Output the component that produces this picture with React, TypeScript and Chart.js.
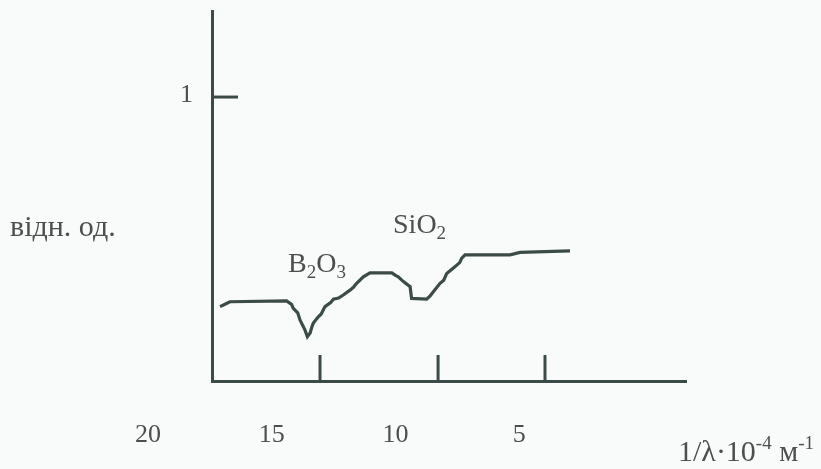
import React, { useEffect, useRef } from 'react';
import { Chart, registerables } from 'chart.js';
Chart.register(...registerables);

// wavenumber 1/λ·10^-4 m^-1 and relative reflectance
const wavenumber = [17.09, 16.85, 16.69, 14.40, 14.20, 14.13, 13.95, 13.86, 13.66, 13.56, 13.45, 13.38, 13.32, 13.12, 13.0, 12.85, 12.62, 12.51, 12.30, 12.11, 11.84, 11.70, 11.57, 11.30, 11.03, 10.15, 10.0, 9.89, 9.68, 9.41, 9.35, 8.74, 8.60, 8.47, 8.20, 8.05, 7.93, 7.60, 7.40, 7.33, 7.19, 5.37, 4.97, 2.95];
const reflectance = [0.262, 0.272, 0.279, 0.282, 0.270, 0.256, 0.240, 0.215, 0.180, 0.156, 0.169, 0.190, 0.204, 0.226, 0.236, 0.262, 0.276, 0.288, 0.292, 0.303, 0.320, 0.330, 0.344, 0.367, 0.381, 0.381, 0.372, 0.367, 0.350, 0.332, 0.291, 0.288, 0.300, 0.314, 0.344, 0.355, 0.379, 0.402, 0.418, 0.432, 0.444, 0.444, 0.453, 0.458];

const xTickLabels = ['20', '15', '10', '5'];
const xTickLabelValues = [20, 15, 10, 5];
const xTickMarks = [13.05, 8.28, 3.96];
const yTickValues = [1];
const yTickLabels = ['1'];

const compoundLabels = ['B2O3', 'SiO2'];
const compoundX = [14.34, 10.1];
const compoundY = [0.384, 0.521];

const yAxisTitle = 'відн. од.';

const INK = '#3b4b47';
const TEXT = '#4b4f50';
const SERIF = '"Liberation Serif", "DejaVu Serif", serif';

function drawChem(ctx: CanvasRenderingContext2D, text: string, x: number, y: number) {
  let cx = x;
  for (const ch of text) {
    if (/[0-9]/.test(ch)) {
      ctx.font = `19px ${SERIF}`;
      ctx.fillText(ch, cx, y + 6);
      cx += ctx.measureText(ch).width;
    } else {
      ctx.font = `28px ${SERIF}`;
      ctx.fillText(ch, cx, y);
      cx += ctx.measureText(ch).width;
    }
  }
}

const decorPlugin = {
  id: 'decor',
  afterDatasetsDraw(chart: any) {
    const { ctx, chartArea, scales } = chart;
    const xs = scales.x;
    const ys = scales.y;
    ctx.save();
    // tick marks
    ctx.strokeStyle = INK;
    ctx.lineWidth = 3;
    ctx.lineCap = 'butt';
    for (const v of xTickMarks) {
      const px = xs.getPixelForValue(v);
      ctx.beginPath();
      ctx.moveTo(px, chartArea.bottom);
      ctx.lineTo(px, chartArea.bottom - 26);
      ctx.stroke();
    }
    for (const v of yTickValues) {
      const py = ys.getPixelForValue(v);
      ctx.beginPath();
      ctx.moveTo(chartArea.left, py);
      ctx.lineTo(chartArea.left + 26, py);
      ctx.stroke();
    }
    // tick labels
    ctx.fillStyle = TEXT;
    ctx.font = `26px ${SERIF}`;
    ctx.textAlign = 'center';
    ctx.textBaseline = 'alphabetic';
    xTickLabels.forEach((t, i) => {
      const px = xs.getPixelForValue(xTickLabelValues[i]);
      ctx.fillText(t, px, chartArea.bottom + 61);
    });
    ctx.textAlign = 'right';
    yTickLabels.forEach((t, i) => {
      const py = ys.getPixelForValue(yTickValues[i]);
      ctx.fillText(t, chartArea.left - 19, py + 5);
    });
    // y axis title
    ctx.textAlign = 'left';
    ctx.font = `30px ${SERIF}`;
    ctx.fillText(yAxisTitle, 10, 236);
    // compound labels
    compoundLabels.forEach((t, i) => {
      drawChem(ctx, t, xs.getPixelForValue(compoundX[i]), ys.getPixelForValue(compoundY[i]));
    });
    // x axis title: 1/λ·10^-4 м^-1
    let cx = 678;
    const by = 461;
    const parts: [string, boolean][] = [['1/λ·10', false], ['-4', true], [' м', false], ['-1', true]];
    for (const [s, sup] of parts) {
      ctx.font = sup ? `19px ${SERIF}` : `30px ${SERIF}`;
      ctx.fillText(s, cx, sup ? by - 12 : by);
      cx += ctx.measureText(s).width;
    }
    ctx.restore();
  },
};

export default function App() {
  const ref = useRef<HTMLCanvasElement>(null);
  useEffect(() => {
    if (!ref.current) return;
    const chart = new Chart(ref.current, {
      type: 'line',
      data: {
        datasets: [
          {
            data: wavenumber.map((x, i) => ({ x, y: reflectance[i] })),
            borderColor: INK,
            borderWidth: 3.2,
            pointRadius: 0,
            tension: 0,
            fill: false,
            stepped: false,
          },
        ],
      },
      options: {
        responsive: false,
        animation: false,
        events: [],
        layout: { padding: { left: 212, right: 135, top: 11, bottom: 88 } },
        plugins: { legend: { display: false }, tooltip: { enabled: false }, title: { display: false } },
        scales: {
          x: {
            type: 'linear',
            reverse: true,
            min: -1.737,
            max: 17.414,
            ticks: { display: false },
            grid: { display: false, drawTicks: false },
            border: { display: true, color: INK, width: 3 },
          },
          y: {
            type: 'linear',
            min: 0,
            max: 1.303,
            ticks: { display: false },
            grid: { display: false, drawTicks: false },
            border: { display: true, color: INK, width: 3 },
          },
        },
      },
      plugins: [decorPlugin],
    });
    return () => chart.destroy();
  }, []);
  return (
    <div style={{ position: 'fixed', left: 0, top: 0, width: 821, height: 469, background: '#f9fbfb' }}>
      <canvas ref={ref} width={821} height={469} style={{ display: 'block' }} />
    </div>
  );
}
